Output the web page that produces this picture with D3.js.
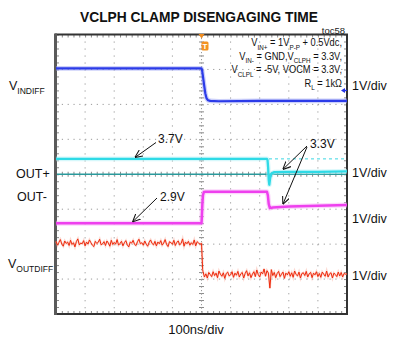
<!DOCTYPE html>
<html><head><meta charset="utf-8">
<script src="https://cdn.jsdelivr.net/npm/d3@7"></script>
<style>
html,body{margin:0;padding:0;background:#fff;}
svg{display:block;font-family:"Liberation Sans",Arial,"Helvetica",sans-serif;}
</style></head><body>
<svg id="chart" width="393" height="349"></svg>
<script>
// ---- scope settings -------------------------------------------------
const timeDomain = [-500, 500];          // ns, 100 ns/div
const divDomain = [-4, 4];               // vertical divisions
const channelNames = ["VINDIFF", "OUT+", "OUT-", "VOUTDIFF"];
const channelPos = [2.1, 0.04, -1.0, -2.88];   // div position of the offset level
const channelOffset = [0, 3.3, 3.3, 0];        // volts at that position
const channelScale = [1, 1, 1, 1];             // V/div

// ---- traces (time in ns, value in volts) -----------------------------
const vinTime  = [-500, -250, 0, 2, 5, 9, 13, 17, 22, 30, 60, 200, 350, 500];
const vinVolts = [0.93, 0.93, 0.93, 0.88, 0.70, 0.45, 0.22, 0.08, 0.02, 0.0, -0.01, 0.0, 0.0, 0.0];

const outpTime  = [-500, -250, 0, 225, 227, 229, 231, 233, 236, 240, 250, 300, 400, 500];
const outpVolts = [3.70, 3.70, 3.70, 3.70, 3.66, 3.45, 3.10, 2.96, 3.15, 3.28, 3.32, 3.33, 3.33, 3.34];

const outmTime  = [-500, 0, 1, 3, 5, 8, 14, 30, 225, 228, 231, 235, 245, 300, 400, 500];
const outmVolts = [2.90, 2.90, 3.05, 3.45, 3.70, 3.79, 3.80, 3.80, 3.80, 3.70, 3.45, 3.33, 3.35, 3.38, 3.40, 3.42];

// VOUTDIFF samples every 5 ns before and after the trigger edge
const voutPreVolts = [
  0.96,0.85,0.93,1.01,0.88,0.82,0.97,0.90,0.94,0.84,
  0.99,0.87,0.92,0.80,0.95,1.03,0.86,0.91,0.89,0.98,
  0.83,0.94,0.88,1.00,0.92,0.85,0.81,0.96,0.90,0.93,
  1.02,0.86,0.89,0.95,0.84,0.97,0.91,0.82,0.99,0.87,
  0.93,0.88,1.01,0.85,0.90,0.96,0.83,0.92,0.98,0.86,
  0.80,0.94,0.91,0.99,0.87,0.84,0.95,1.02,0.89,0.92,
  0.85,0.97,0.88,0.82,0.93,1.00,0.90,0.86,0.96,0.83,
  0.94,0.89,0.98,0.85,0.91,1.01,0.87,0.81,0.95,0.92,
  0.88,0.99,0.84,0.93,0.97,0.86,0.90,1.03,0.82,0.94,
  0.89,0.96,0.85,0.92,0.87,1.00,0.83,0.95,0.91,0.88];
const voutEdgeTime  = [0, 2, 4];
const voutEdgeVolts = [0.90, 0.55, 0.15];
const voutPostVolts = [
  0.10,-0.06,0.03,-0.09,0.07,0.01,-0.05,0.09,-0.02,0.05,
  -0.08,0.11,0.02,-0.04,0.06,-0.10,0.04,0.08,-0.03,0.00,
  0.09,-0.07,0.05,-0.01,0.10,-0.06,0.03,0.07,-0.09,0.04,
  0.12,-0.03,0.06,-0.08,0.02,0.09,-0.05,0.14,0.01,-0.06,
  0.08,0.03,0.17,-0.04,0.12,0.05,-0.38,0.15,-0.02,0.07,
  -0.08,0.04,0.10,-0.05,0.02,0.08,-0.10,0.05,0.00,0.09,
  -0.04,0.06,-0.07,0.11,0.01,-0.03,0.08,-0.09,0.04,0.06,
  -0.02,0.10,-0.06,0.03,0.07,-0.08,0.05,0.00,0.09,-0.05,
  0.04,-0.07,0.08,0.02,-0.04,0.11,-0.06,0.03,0.06,-0.09,
  0.05,0.01,-0.05,0.08,-0.03,0.07,-0.06,0.04,0.02,0.03];
const samplePeriod = 5;

// reference level drawn dashed on OUT+ after the edge
const outpRefTime = [232, 500];
const outpRefVolts = [3.7, 3.7];

// ---- text ------------------------------------------------------------
const titleText = "VCLPH CLAMP DISENGAGING TIME";
const figId = "toc58";
const timeLabel = "100ns/div";
const scaleLabel = "1V/div";

// ---- layout ----------------------------------------------------------
const svg = d3.select("#chart");
const L = 56, R = 347, T = 34.5, B = 314;
const x = d3.scaleLinear().domain(timeDomain).range([L, R]);
const y = d3.scaleLinear().domain(divDomain).range([B, T]);
const yCh = (c, v) => y(channelPos[c] + (v - channelOffset[c]) / channelScale[c]);

// title
svg.append("text").attr("x", 199).attr("y", 22).attr("text-anchor", "middle")
  .attr("font-size", 15.5).attr("font-weight", "bold").attr("fill", "#111")
  .attr("textLength", 238).attr("lengthAdjust", "spacingAndGlyphs").text(titleText);
svg.append("text").attr("x", 345).attr("y", 33.5).attr("text-anchor", "end")
  .attr("font-size", 9.5).attr("fill", "#222").text(figId);

// ---- graticule ---------------------------------------------------------
const grid = svg.append("g");
const xMajor = d3.range(timeDomain[0] + 100, timeDomain[1], 100);
const yMajor = d3.range(divDomain[0] + 1, divDomain[1], 1);
grid.selectAll(".vg").data(xMajor.filter(d => d !== 0)).join("line")
  .attr("x1", d => x(d)).attr("x2", d => x(d)).attr("y1", T).attr("y2", B)
  .attr("stroke", "#9a9a9a").attr("stroke-width", 1).attr("stroke-dasharray", "1.2,5.79");
grid.selectAll(".hg").data(yMajor.filter(d => d !== 0)).join("line")
  .attr("x1", L).attr("x2", R).attr("y1", d => y(d)).attr("y2", d => y(d))
  .attr("stroke", "#9a9a9a").attr("stroke-width", 1).attr("stroke-dasharray", "1.2,4.62");

// minor ticks on the frame and centre axes
const xMinor = d3.range(timeDomain[0], timeDomain[1] + 1, 20);
const yMinor = d3.range(divDomain[0], divDomain[1] + 0.01, 0.2);
const tickCol = "#8a8a8a";
function minorAxis(axis, tx, ty) {
  const g = grid.append("g").attr("transform", `translate(${tx},${ty})`).call(axis);
  g.select(".domain").remove();
  g.selectAll(".tick text").remove();
  g.selectAll(".tick line").attr("stroke", tickCol);
  return g;
}
minorAxis(d3.axisBottom(x).tickValues(xMinor).tickSize(3).tickFormat(""), 0, T);
minorAxis(d3.axisTop(x).tickValues(xMinor).tickSize(3).tickFormat(""), 0, B);
minorAxis(d3.axisRight(y).tickValues(yMinor).tickSize(3).tickFormat(""), L, 0);
minorAxis(d3.axisLeft(y).tickValues(yMinor).tickSize(3).tickFormat(""), R, 0);
minorAxis(d3.axisBottom(x).tickValues(xMinor).tickSize(5).tickFormat(""), 0, y(0) - 2.5);
minorAxis(d3.axisRight(y).tickValues(yMinor).tickSize(5).tickFormat(""), x(0) - 2.5, 0);
// centre axes
grid.append("line").attr("x1", x(0)).attr("x2", x(0)).attr("y1", T).attr("y2", B)
  .attr("stroke", "#9a9a9a").attr("stroke-width", 1).attr("stroke-dasharray", "1.2,2.3");
grid.append("line").attr("x1", L).attr("x2", R).attr("y1", y(0)).attr("y2", y(0))
  .attr("stroke", "#2a9a9c").attr("stroke-width", 1.3);

// frame
svg.append("rect").attr("x", L).attr("y", T).attr("width", R - L).attr("height", B - T)
  .attr("fill", "none").attr("stroke", "#333").attr("stroke-width", 2);
svg.append("line").attr("x1", L - 0.5).attr("x2", L - 0.5).attr("y1", T - 1).attr("y2", B + 1)
  .attr("stroke", "#5a5a5a").attr("stroke-width", 3);

// ---- traces ------------------------------------------------------------
const traces = svg.append("g");
function drawTrace(c, ts, vs, core, halo, wCore, wHalo) {
  const pts = ts.map((t, i) => [x(t), yCh(c, vs[i])]);
  const line = d3.line();
  traces.append("path").attr("d", line(pts)).attr("fill", "none")
    .attr("stroke", halo).attr("stroke-width", wHalo).attr("stroke-opacity", 0.5)
    .attr("stroke-linejoin", "round");
  traces.append("path").attr("d", line(pts)).attr("fill", "none")
    .attr("stroke", core).attr("stroke-width", wCore).attr("stroke-linejoin", "round");
}
drawTrace(0, vinTime, vinVolts, "#2b3be8", "#9aa2f6", 2.2, 4.6);
drawTrace(1, outpTime, outpVolts, "#2edae6", "#aef2f7", 2.3, 4.8);
drawTrace(2, outmTime, outmVolts, "#ee40ee", "#f7b0f7", 2.5, 5);

// OUT+ dashed reference level
traces.append("line").attr("x1", x(outpRefTime[0])).attr("x2", x(outpRefTime[1]))
  .attr("y1", yCh(1, outpRefVolts[0])).attr("y2", yCh(1, outpRefVolts[1]))
  .attr("stroke", "#3bd6e2").attr("stroke-width", 1).attr("stroke-dasharray", "3,3");

// VOUTDIFF assembled from its sample blocks
const voutTime = [], voutVolts = [];
voutPreVolts.forEach((v, i) => { voutTime.push(-500 + i * samplePeriod); voutVolts.push(v); });
voutEdgeTime.forEach((t, i) => { voutTime.push(t); voutVolts.push(voutEdgeVolts[i]); });
voutPostVolts.forEach((v, i) => { voutTime.push(samplePeriod * (i + 1)); voutVolts.push(v); });
{
  const pts = voutTime.map((t, i) => [x(t), yCh(3, voutVolts[i])]);
  traces.append("path").attr("d", d3.line()(pts)).attr("fill", "none")
    .attr("stroke", "#f8a898").attr("stroke-width", 2.2).attr("stroke-opacity", 0.45);
  traces.append("path").attr("d", d3.line()(pts)).attr("fill", "none")
    .attr("stroke", "#ee2a0c").attr("stroke-width", 1);
}

// trigger marker
const tx0 = x(0);
svg.append("path").attr("d", `M${tx0 - 3},${T - 0.5}L${tx0 + 3},${T - 0.5}L${tx0},${T + 4}Z`).attr("fill", "#f08c1e");
svg.append("rect").attr("x", tx0).attr("y", T + 7).attr("width", 7).attr("height", 9).attr("rx", 1.5)
  .attr("fill", "#f39322");
svg.append("text").attr("x", tx0 + 3.5).attr("y", T + 14.5).attr("text-anchor", "middle")
  .attr("font-size", 8).attr("font-weight", "bold").attr("fill", "#fff").text("T");
// channel 1 level marker at right edge
const m1 = yCh(0, 0.3);
svg.append("path").attr("d", `M${R - 6},${m1}L${R - 2},${m1 - 2.5}L${R - 2},${m1 + 2.5}Z`).attr("fill", "#2433e6");
svg.append("line").attr("x1", R - 3).attr("x2", R).attr("y1", m1).attr("y2", m1).attr("stroke", "#2433e6").attr("stroke-width", 1.2);

// ---- labels -----------------------------------------------------------
function richText(parent, xx, yy, parts, size, anchor) {
  const t = parent.append("text").attr("x", xx).attr("y", yy).attr("font-size", size)
    .attr("fill", "#111").attr("text-anchor", anchor || "start");
  let shifted = false;
  parts.forEach(p => {
    const sub = p[1] === "sub";
    const ts = t.append("tspan").text(p[0]);
    if (sub && !shifted) { ts.attr("dy", size * 0.3).attr("font-size", size * 0.68); shifted = true; }
    else if (sub) { ts.attr("font-size", size * 0.68); }
    else if (!sub && shifted) { ts.attr("dy", -size * 0.3); shifted = false; }
  });
  return t;
}
// conditions block, condensed
const cond = svg.append("g").attr("transform", "translate(342,0) scale(0.86,1)");
richText(cond, 0, 46.5, [["V"], ["IN+", "sub"], [" = 1V"], ["P-P", "sub"], [" + 0.5Vdc,"]], 10.8, "end");
richText(cond, 0, 60, [["V"], ["IN-", "sub"], [" = GND,V"], ["CLPH", "sub"], [" = 3.3V,"]], 10.8, "end");
richText(cond, 0, 73.5, [["V"], ["CLPL", "sub"], [" = -5V, VOCM = 3.3V,"]], 10.8, "end");
richText(cond, 0, 87, [["R"], ["L", "sub"], [" = 1k\u03A9"]], 10.8, "end");

// channel names on the left
richText(svg, 9, 90, [["V"], ["INDIFF", "sub"]], 12.5);
svg.append("text").attr("x", 16).attr("y", 178).attr("font-size", 12.5).attr("fill", "#111").text("OUT+");
svg.append("text").attr("x", 17).attr("y", 201).attr("font-size", 12.5).attr("fill", "#111").text("OUT-");
richText(svg, 8, 268, [["V"], ["OUTDIFF", "sub"]], 12.5);

// V/div labels on the right
const scaleY = [90, 177, 223, 280];
scaleY.forEach(yy => svg.append("text").attr("x", 352).attr("y", yy).attr("font-size", 12.5)
  .attr("fill", "#111").text(scaleLabel));

svg.append("text").attr("x", 196).attr("y", 334).attr("text-anchor", "middle")
  .attr("font-size", 13).attr("fill", "#111").text(timeLabel);

// ---- callouts ----------------------------------------------------------
svg.append("defs").append("marker").attr("id", "ah").attr("viewBox", "0 0 10 10")
  .attr("refX", 9.5).attr("refY", 5).attr("markerWidth", 8).attr("markerHeight", 8)
  .attr("markerUnits", "userSpaceOnUse").attr("orient", "auto")
  .append("path").attr("d", "M0,0.5L10,5L0,9.5").attr("fill", "none").attr("stroke", "#111").attr("stroke-width", 1.3);
function callout(x1, y1, x2, y2) {
  svg.append("line").attr("x1", x1).attr("y1", y1).attr("x2", x2).attr("y2", y2)
    .attr("stroke", "#111").attr("stroke-width", 1).attr("marker-end", "url(#ah)");
}
// 3.7V on OUT+
callout(156, 142.5, x(-228), yCh(1, 3.7) - 1.5);
svg.append("text").attr("x", 158).attr("y", 143).attr("font-size", 12).attr("fill", "#111").text("3.7V");
// 3.3V on OUT+ and OUT- after the edge
callout(307, 146, x(280), yCh(1, 3.33) - 2.5);
callout(307, 147, x(280), yCh(2, 3.39) - 2);
svg.append("text").attr("x", 310).attr("y", 148).attr("font-size", 12).attr("fill", "#111").text("3.3V");
// 2.9V on OUT-
callout(157, 198, x(-236), yCh(2, 2.9) - 1.5);
svg.append("text").attr("x", 160).attr("y", 201).attr("font-size", 12).attr("fill", "#111").text("2.9V");
</script>
</body></html>
